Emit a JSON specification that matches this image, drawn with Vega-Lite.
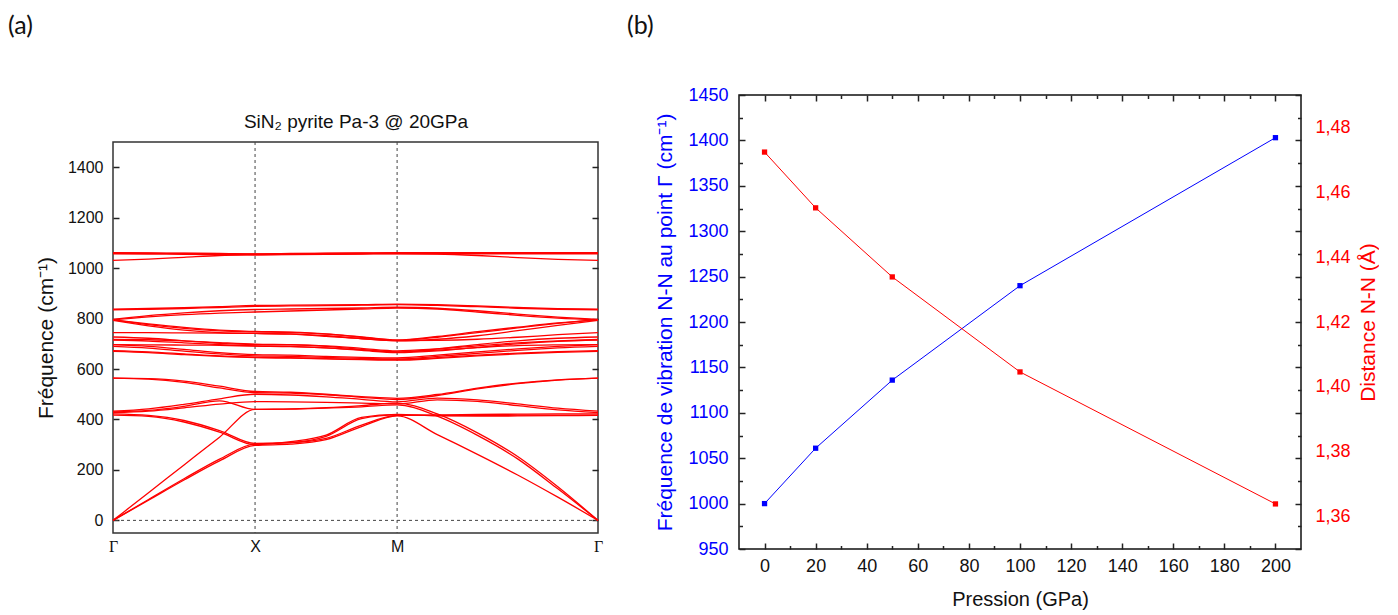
{
  "$schema": "https://vega.github.io/schema/vega-lite/v6.json",
  "background": "white",
  "padding": {"left": 8, "top": 13, "right": 0, "bottom": 0},
  "spacing": 22,
  "config": {
    "font": "Liberation Sans",
    "axis": {"grid": false, "labelFont": "Liberation Sans", "titleFont": "Liberation Sans", "tickColor": "#222", "tickWidth": 1.5}
  },
  "datasets": {
    "bands": [
      {"b":"H1","k":0,"f":1031},{"b":"H1","k":0.25,"f":1036},{"b":"H1","k":0.5,"f":1043},{"b":"H1","k":0.75,"f":1050},{"b":"H1","k":1,"f":1053},{"b":"H1","k":1.25,"f":1055},{"b":"H1","k":1.5,"f":1056},{"b":"H1","k":1.75,"f":1057},{"b":"H1","k":2,"f":1058},{"b":"H1","k":2.2828,"f":1056},{"b":"H1","k":2.5657,"f":1050},{"b":"H1","k":2.8485,"f":1042},{"b":"H1","k":3.1314,"f":1035},{"b":"H1","k":3.4142,"f":1031},
      {"b":"H2","k":0,"f":1057},{"b":"H2","k":0.25,"f":1056},{"b":"H2","k":0.5,"f":1055},{"b":"H2","k":0.75,"f":1054},{"b":"H2","k":1,"f":1053},{"b":"H2","k":1.25,"f":1054},{"b":"H2","k":1.5,"f":1055},{"b":"H2","k":1.75,"f":1056},{"b":"H2","k":2,"f":1057},{"b":"H2","k":2.2828,"f":1057},{"b":"H2","k":2.5657,"f":1057},{"b":"H2","k":2.8485,"f":1057},{"b":"H2","k":3.1314,"f":1057},{"b":"H2","k":3.4142,"f":1057},
      {"b":"H3","k":0,"f":1060},{"b":"H3","k":0.25,"f":1059},{"b":"H3","k":0.5,"f":1058},{"b":"H3","k":0.75,"f":1057},{"b":"H3","k":1,"f":1056},{"b":"H3","k":1.25,"f":1057},{"b":"H3","k":1.5,"f":1058},{"b":"H3","k":1.75,"f":1059},{"b":"H3","k":2,"f":1060},{"b":"H3","k":2.2828,"f":1060},{"b":"H3","k":2.5657,"f":1060},{"b":"H3","k":2.8485,"f":1060},{"b":"H3","k":3.1314,"f":1060},{"b":"H3","k":3.4142,"f":1060},
      {"b":"H4","k":0,"f":1061},{"b":"H4","k":0.25,"f":1060},{"b":"H4","k":0.5,"f":1059},{"b":"H4","k":0.75,"f":1058},{"b":"H4","k":1,"f":1056},{"b":"H4","k":1.25,"f":1058},{"b":"H4","k":1.5,"f":1059},{"b":"H4","k":1.75,"f":1060},{"b":"H4","k":2,"f":1061},{"b":"H4","k":2.2828,"f":1061},{"b":"H4","k":2.5657,"f":1061},{"b":"H4","k":2.8485,"f":1061},{"b":"H4","k":3.1314,"f":1061},{"b":"H4","k":3.4142,"f":1061},
      {"b":"U1","k":0,"f":837},{"b":"U1","k":0.25,"f":840},{"b":"U1","k":0.5,"f":843},{"b":"U1","k":0.75,"f":847},{"b":"U1","k":1,"f":852},{"b":"U1","k":1.25,"f":853},{"b":"U1","k":1.5,"f":854},{"b":"U1","k":1.75,"f":855},{"b":"U1","k":2,"f":857},{"b":"U1","k":2.2828,"f":855},{"b":"U1","k":2.5657,"f":850},{"b":"U1","k":2.8485,"f":844},{"b":"U1","k":3.1314,"f":839},{"b":"U1","k":3.4142,"f":837},
      {"b":"U2","k":0,"f":835},{"b":"U2","k":0.25,"f":837},{"b":"U2","k":0.5,"f":840},{"b":"U2","k":0.75,"f":844},{"b":"U2","k":1,"f":848},{"b":"U2","k":1.25,"f":850},{"b":"U2","k":1.5,"f":851},{"b":"U2","k":1.75,"f":853},{"b":"U2","k":2,"f":855},{"b":"U2","k":2.2828,"f":852},{"b":"U2","k":2.5657,"f":847},{"b":"U2","k":2.8485,"f":841},{"b":"U2","k":3.1314,"f":837},{"b":"U2","k":3.4142,"f":835},
      {"b":"U3","k":0,"f":797},{"b":"U3","k":0.25,"f":812},{"b":"U3","k":0.5,"f":823},{"b":"U3","k":0.75,"f":831},{"b":"U3","k":1,"f":836},{"b":"U3","k":1.25,"f":838},{"b":"U3","k":1.5,"f":840},{"b":"U3","k":1.75,"f":842},{"b":"U3","k":2,"f":845},{"b":"U3","k":2.2828,"f":841},{"b":"U3","k":2.5657,"f":831},{"b":"U3","k":2.8485,"f":818},{"b":"U3","k":3.1314,"f":806},{"b":"U3","k":3.4142,"f":797},
      {"b":"U4","k":0,"f":795},{"b":"U4","k":0.25,"f":807},{"b":"U4","k":0.5,"f":816},{"b":"U4","k":0.75,"f":822},{"b":"U4","k":1,"f":826},{"b":"U4","k":1.25,"f":830},{"b":"U4","k":1.5,"f":834},{"b":"U4","k":1.75,"f":838},{"b":"U4","k":2,"f":842},{"b":"U4","k":2.2828,"f":838},{"b":"U4","k":2.5657,"f":826},{"b":"U4","k":2.8485,"f":813},{"b":"U4","k":3.1314,"f":802},{"b":"U4","k":3.4142,"f":795},
      {"b":"U5","k":0,"f":796},{"b":"U5","k":0.25,"f":776},{"b":"U5","k":0.5,"f":761},{"b":"U5","k":0.75,"f":751},{"b":"U5","k":1,"f":747},{"b":"U5","k":1.25,"f":745},{"b":"U5","k":1.5,"f":738},{"b":"U5","k":1.75,"f":726},{"b":"U5","k":2,"f":714},{"b":"U5","k":2.2828,"f":726},{"b":"U5","k":2.5657,"f":744},{"b":"U5","k":2.8485,"f":763},{"b":"U5","k":3.1314,"f":781},{"b":"U5","k":3.4142,"f":796},
      {"b":"U6","k":0,"f":793},{"b":"U6","k":0.25,"f":771},{"b":"U6","k":0.5,"f":754},{"b":"U6","k":0.75,"f":744},{"b":"U6","k":1,"f":741},{"b":"U6","k":1.25,"f":739},{"b":"U6","k":1.5,"f":732},{"b":"U6","k":1.75,"f":721},{"b":"U6","k":2,"f":712},{"b":"U6","k":2.2828,"f":718},{"b":"U6","k":2.5657,"f":732},{"b":"U6","k":2.8485,"f":752},{"b":"U6","k":3.1314,"f":773},{"b":"U6","k":3.4142,"f":793},
      {"b":"U7","k":0,"f":795},{"b":"U7","k":0.25,"f":779},{"b":"U7","k":0.5,"f":765},{"b":"U7","k":0.75,"f":754},{"b":"U7","k":1,"f":749},{"b":"U7","k":1.25,"f":746},{"b":"U7","k":1.5,"f":739},{"b":"U7","k":1.75,"f":727},{"b":"U7","k":2,"f":715},{"b":"U7","k":2.2828,"f":729},{"b":"U7","k":2.5657,"f":748},{"b":"U7","k":2.8485,"f":766},{"b":"U7","k":3.1314,"f":783},{"b":"U7","k":3.4142,"f":795},
      {"b":"M1","k":0,"f":744},{"b":"M1","k":0.25,"f":744},{"b":"M1","k":0.5,"f":743},{"b":"M1","k":0.75,"f":742},{"b":"M1","k":1,"f":741},{"b":"M1","k":1.25,"f":738},{"b":"M1","k":1.5,"f":730},{"b":"M1","k":1.75,"f":720},{"b":"M1","k":2,"f":713},{"b":"M1","k":2.2828,"f":714},{"b":"M1","k":2.5657,"f":718},{"b":"M1","k":2.8485,"f":726},{"b":"M1","k":3.1314,"f":736},{"b":"M1","k":3.4142,"f":744},
      {"b":"M2","k":0,"f":727},{"b":"M2","k":0.25,"f":722},{"b":"M2","k":0.5,"f":712},{"b":"M2","k":0.75,"f":702},{"b":"M2","k":1,"f":697},{"b":"M2","k":1.25,"f":696},{"b":"M2","k":1.5,"f":690},{"b":"M2","k":1.75,"f":678},{"b":"M2","k":2,"f":667},{"b":"M2","k":2.2828,"f":680},{"b":"M2","k":2.5657,"f":697},{"b":"M2","k":2.8485,"f":712},{"b":"M2","k":3.1314,"f":722},{"b":"M2","k":3.4142,"f":727},
      {"b":"M9","k":0,"f":717},{"b":"M9","k":0.25,"f":716},{"b":"M9","k":0.5,"f":712},{"b":"M9","k":0.75,"f":705},{"b":"M9","k":1,"f":699},{"b":"M9","k":1.25,"f":697},{"b":"M9","k":1.5,"f":692},{"b":"M9","k":1.75,"f":682},{"b":"M9","k":2,"f":672},{"b":"M9","k":2.2828,"f":680},{"b":"M9","k":2.5657,"f":692},{"b":"M9","k":2.8485,"f":704},{"b":"M9","k":3.1314,"f":712},{"b":"M9","k":3.4142,"f":717},
      {"b":"M3","k":0,"f":715},{"b":"M3","k":0.25,"f":711},{"b":"M3","k":0.5,"f":704},{"b":"M3","k":0.75,"f":697},{"b":"M3","k":1,"f":692},{"b":"M3","k":1.25,"f":690},{"b":"M3","k":1.5,"f":684},{"b":"M3","k":1.75,"f":674},{"b":"M3","k":2,"f":665},{"b":"M3","k":2.2828,"f":672},{"b":"M3","k":2.5657,"f":686},{"b":"M3","k":2.8485,"f":700},{"b":"M3","k":3.1314,"f":710},{"b":"M3","k":3.4142,"f":715},
      {"b":"M8","k":0,"f":697},{"b":"M8","k":0.25,"f":696},{"b":"M8","k":0.5,"f":695},{"b":"M8","k":0.75,"f":694},{"b":"M8","k":1,"f":691},{"b":"M8","k":1.25,"f":689},{"b":"M8","k":1.5,"f":684},{"b":"M8","k":1.75,"f":676},{"b":"M8","k":2,"f":668},{"b":"M8","k":2.2828,"f":675},{"b":"M8","k":2.5657,"f":685},{"b":"M8","k":2.8485,"f":693},{"b":"M8","k":3.1314,"f":696},{"b":"M8","k":3.4142,"f":697},
      {"b":"M4","k":0,"f":697},{"b":"M4","k":0.25,"f":690},{"b":"M4","k":0.5,"f":678},{"b":"M4","k":0.75,"f":665},{"b":"M4","k":1,"f":657},{"b":"M4","k":1.25,"f":655},{"b":"M4","k":1.5,"f":650},{"b":"M4","k":1.75,"f":646},{"b":"M4","k":2,"f":644},{"b":"M4","k":2.2828,"f":655},{"b":"M4","k":2.5657,"f":668},{"b":"M4","k":2.8485,"f":680},{"b":"M4","k":3.1314,"f":690},{"b":"M4","k":3.4142,"f":697},
      {"b":"M5","k":0,"f":690},{"b":"M5","k":0.25,"f":683},{"b":"M5","k":0.5,"f":671},{"b":"M5","k":0.75,"f":660},{"b":"M5","k":1,"f":652},{"b":"M5","k":1.25,"f":650},{"b":"M5","k":1.5,"f":646},{"b":"M5","k":1.75,"f":642},{"b":"M5","k":2,"f":640},{"b":"M5","k":2.2828,"f":650},{"b":"M5","k":2.5657,"f":662},{"b":"M5","k":2.8485,"f":674},{"b":"M5","k":3.1314,"f":684},{"b":"M5","k":3.4142,"f":690},
      {"b":"M6","k":0,"f":673},{"b":"M6","k":0.25,"f":668},{"b":"M6","k":0.5,"f":660},{"b":"M6","k":0.75,"f":652},{"b":"M6","k":1,"f":647},{"b":"M6","k":1.25,"f":645},{"b":"M6","k":1.5,"f":641},{"b":"M6","k":1.75,"f":638},{"b":"M6","k":2,"f":637},{"b":"M6","k":2.2828,"f":645},{"b":"M6","k":2.5657,"f":655},{"b":"M6","k":2.8485,"f":663},{"b":"M6","k":3.1314,"f":669},{"b":"M6","k":3.4142,"f":673},
      {"b":"M7","k":0,"f":670},{"b":"M7","k":0.25,"f":665},{"b":"M7","k":0.5,"f":657},{"b":"M7","k":0.75,"f":650},{"b":"M7","k":1,"f":645},{"b":"M7","k":1.25,"f":643},{"b":"M7","k":1.5,"f":640},{"b":"M7","k":1.75,"f":637},{"b":"M7","k":2,"f":635},{"b":"M7","k":2.2828,"f":642},{"b":"M7","k":2.5657,"f":652},{"b":"M7","k":2.8485,"f":660},{"b":"M7","k":3.1314,"f":666},{"b":"M7","k":3.4142,"f":670},
      {"b":"L1","k":0,"f":564},{"b":"L1","k":0.25,"f":562},{"b":"L1","k":0.5,"f":552},{"b":"L1","k":0.75,"f":532},{"b":"L1","k":1,"f":511},{"b":"L1","k":1.25,"f":508},{"b":"L1","k":1.5,"f":500},{"b":"L1","k":1.75,"f":491},{"b":"L1","k":2,"f":484},{"b":"L1","k":2.2828,"f":499},{"b":"L1","k":2.5657,"f":524},{"b":"L1","k":2.8485,"f":544},{"b":"L1","k":3.1314,"f":557},{"b":"L1","k":3.4142,"f":564},
      {"b":"L2","k":0,"f":564},{"b":"L2","k":0.25,"f":560},{"b":"L2","k":0.5,"f":547},{"b":"L2","k":0.75,"f":525},{"b":"L2","k":1,"f":506},{"b":"L2","k":1.25,"f":505},{"b":"L2","k":1.5,"f":498},{"b":"L2","k":1.75,"f":488},{"b":"L2","k":2,"f":479},{"b":"L2","k":2.2828,"f":495},{"b":"L2","k":2.5657,"f":521},{"b":"L2","k":2.8485,"f":542},{"b":"L2","k":3.1314,"f":556},{"b":"L2","k":3.4142,"f":564},
      {"b":"L3","k":0,"f":433},{"b":"L3","k":0.25,"f":442},{"b":"L3","k":0.5,"f":460},{"b":"L3","k":0.75,"f":482},{"b":"L3","k":1,"f":500},{"b":"L3","k":1.25,"f":497},{"b":"L3","k":1.5,"f":490},{"b":"L3","k":1.75,"f":480},{"b":"L3","k":2,"f":470},{"b":"L3","k":2.2828,"f":485},{"b":"L3","k":2.5657,"f":478},{"b":"L3","k":2.8485,"f":462},{"b":"L3","k":3.1314,"f":445},{"b":"L3","k":3.4142,"f":433},
      {"b":"L4","k":0,"f":427},{"b":"L4","k":0.25,"f":433},{"b":"L4","k":0.5,"f":446},{"b":"L4","k":0.75,"f":461},{"b":"L4","k":1,"f":471},{"b":"L4","k":1.25,"f":470},{"b":"L4","k":1.5,"f":468},{"b":"L4","k":1.75,"f":465},{"b":"L4","k":2,"f":462},{"b":"L4","k":2.2828,"f":478},{"b":"L4","k":2.5657,"f":472},{"b":"L4","k":2.8485,"f":455},{"b":"L4","k":3.1314,"f":438},{"b":"L4","k":3.4142,"f":427},
      {"b":"L5","k":0,"f":422},{"b":"L5","k":0.25,"f":416},{"b":"L5","k":0.5,"f":396},{"b":"L5","k":0.75,"f":356},{"b":"L5","k":1,"f":305},{"b":"L5","k":1.25,"f":308},{"b":"L5","k":1.5,"f":325},{"b":"L5","k":1.75,"f":378},{"b":"L5","k":2,"f":416},{"b":"L5","k":2.2828,"f":418},{"b":"L5","k":2.5657,"f":420},{"b":"L5","k":2.8485,"f":421},{"b":"L5","k":3.1314,"f":422},{"b":"L5","k":3.4142,"f":422},
      {"b":"L6","k":0,"f":417},{"b":"L6","k":0.25,"f":412},{"b":"L6","k":0.5,"f":390},{"b":"L6","k":0.75,"f":350},{"b":"L6","k":1,"f":300},{"b":"L6","k":1.25,"f":312},{"b":"L6","k":1.5,"f":338},{"b":"L6","k":1.75,"f":408},{"b":"L6","k":2,"f":420},{"b":"L6","k":2.2828,"f":414},{"b":"L6","k":2.5657,"f":413},{"b":"L6","k":2.8485,"f":414},{"b":"L6","k":3.1314,"f":415},{"b":"L6","k":3.4142,"f":416},
      {"b":"L7","k":0,"f":430},{"b":"L7","k":0.25,"f":436},{"b":"L7","k":0.5,"f":452},{"b":"L7","k":0.75,"f":474},{"b":"L7","k":1,"f":440},{"b":"L7","k":1.25,"f":441},{"b":"L7","k":1.5,"f":445},{"b":"L7","k":1.75,"f":450},{"b":"L7","k":2,"f":458},{"b":"L7","k":2.2828,"f":413},{"b":"L7","k":2.5657,"f":337},{"b":"L7","k":2.8485,"f":244},{"b":"L7","k":3.1314,"f":125},{"b":"L7","k":3.4142,"f":0},
      {"b":"A1","k":0,"f":0},{"b":"A1","k":0.25,"f":80},{"b":"A1","k":0.5,"f":160},{"b":"A1","k":0.75,"f":236},{"b":"A1","k":1,"f":297},{"b":"A1","k":1.25,"f":302},{"b":"A1","k":1.5,"f":320},{"b":"A1","k":1.75,"f":372},{"b":"A1","k":2,"f":414},{"b":"A1","k":2.2828,"f":340},{"b":"A1","k":2.5657,"f":262},{"b":"A1","k":2.8485,"f":180},{"b":"A1","k":3.1314,"f":92},{"b":"A1","k":3.4142,"f":0},
      {"b":"A2","k":0,"f":0},{"b":"A2","k":0.25,"f":83},{"b":"A2","k":0.5,"f":165},{"b":"A2","k":0.75,"f":243},{"b":"A2","k":1,"f":303},{"b":"A2","k":1.25,"f":308},{"b":"A2","k":1.5,"f":333},{"b":"A2","k":1.75,"f":403},{"b":"A2","k":2,"f":418},{"b":"A2","k":2.2828,"f":416},{"b":"A2","k":2.5657,"f":416},{"b":"A2","k":2.8485,"f":417},{"b":"A2","k":3.1314,"f":417},{"b":"A2","k":3.4142,"f":417},
      {"b":"LA","k":0,"f":0},{"b":"LA","k":0.25,"f":110},{"b":"LA","k":0.5,"f":220},{"b":"LA","k":0.75,"f":330},{"b":"LA","k":1,"f":440},{"b":"LA","k":1.25,"f":442},{"b":"LA","k":1.5,"f":447},{"b":"LA","k":1.75,"f":455},{"b":"LA","k":2,"f":465},{"b":"LA","k":2.2828,"f":422},{"b":"LA","k":2.5657,"f":347},{"b":"LA","k":2.8485,"f":253},{"b":"LA","k":3.1314,"f":133},{"b":"LA","k":3.4142,"f":0}
    ],
    "pression": [
      {"p": 0, "freq": 1000, "dist": 1.4724},
      {"p": 20, "freq": 1061, "dist": 1.4552},
      {"p": 50, "freq": 1136, "dist": 1.4339},
      {"p": 100, "freq": 1240, "dist": 1.4046},
      {"p": 200, "freq": 1403, "dist": 1.3639}
    ]
  },
  "hconcat": [
    {
      "spacing": 0,
      "vconcat": [
        {
          "width": 485,
          "height": 16,
          "view": {"stroke": null},
          "title": {"text": "(a)", "anchor": "start", "frame": "group", "dx": -105, "offset": 56, "fontSize": 25, "font": "Lato", "fontWeight": "normal", "color": "#111"},
          "data": {"values": [{"t": ""}]},
          "mark": {"type": "text"},
          "encoding": {"text": {"field": "t"}}
        },
        {
          "width": 485,
          "height": 391,
          "view": {"stroke": "#333", "strokeWidth": 1.5},
          "resolve": {"axis": {"x": "independent", "y": "independent"}},
          "layer": [
            {
              "data": {"values": [{"k": 1}, {"k": 2}]},
              "mark": {"type": "rule", "color": "#444", "strokeDash": [3, 3], "strokeWidth": 1},
              "encoding": {"x": {"field": "k", "type": "quantitative", "scale": {"domain": [0, 3.4142], "nice": false, "zero": false}, "axis": null}}
            },
            {
              "data": {"values": [{"f": 0}]},
              "mark": {"type": "rule", "color": "#444", "strokeDash": [3, 3], "strokeWidth": 1},
              "encoding": {"y": {"field": "f", "type": "quantitative", "scale": {"domain": [-50, 1500], "nice": false, "zero": false}, "axis": null}}
            },
            {
              "data": {"name": "bands"},
              "mark": {"type": "line", "color": "#ff0000", "strokeWidth": 1.3, "interpolate": "monotone"},
              "encoding": {
                "x": {"field": "k", "type": "quantitative", "scale": {"domain": [0, 3.4142], "nice": false, "zero": false},
                  "axis": {"values": [0, 1, 2, 3.4142], "labelExpr": "datum.value == 1 ? 'X' : datum.value == 2 ? 'M' : 'Γ'", "ticks": false, "domain": false, "title": null, "labelFontSize": 16, "labelColor": "#111", "labelPadding": 5, "labelFlush": false, "labelOverlap": false, "labelBound": false,
                    "labelFont": {"condition": {"test": "datum.value == 1 || datum.value == 2", "value": "Liberation Sans"}, "value": "Liberation Serif"}}},
                "y": {"field": "f", "type": "quantitative", "scale": {"domain": [-50, 1500], "nice": false, "zero": false},
                  "axis": {"values": [0, 200, 400, 600, 800, 1000, 1200, 1400], "format": "d", "tickSize": -6, "labelPadding": 16, "domain": false, "labelFontSize": 16, "labelColor": "#111", "title": "Fréquence (cm⁻¹)", "titleFontSize": 21, "titleFontWeight": "normal", "titleColor": "#111", "titlePadding": 11}},
                "detail": {"field": "b", "type": "nominal"}
              }
            },
            {
              "data": {"values": [{"f": 0}]},
              "mark": {"type": "point", "opacity": 0},
              "encoding": {"y": {"field": "f", "type": "quantitative", "scale": {"domain": [-50, 1500], "nice": false, "zero": false},
                "axis": {"orient": "right", "values": [0, 200, 400, 600, 800, 1000, 1200, 1400], "labels": false, "tickSize": -6, "domain": false, "title": null}}}
            },
            {
              "data": {"values": [{"k": 0}]},
              "mark": {"type": "point", "opacity": 0},
              "encoding": {"x": {"field": "k", "type": "quantitative", "scale": {"domain": [0, 3.4142], "nice": false, "zero": false},
                "axis": {"orient": "top", "labels": false, "ticks": false, "domain": false, "title": "SiN₂ pyrite Pa-3 @ 20GPa", "titleFontSize": 19, "titleFontWeight": "normal", "titleColor": "#111", "titlePadding": 11}}}
            }
          ]
        }
      ]
    },
    {
      "width": 562,
      "height": 454,
      "view": {"stroke": "#111", "strokeWidth": 1.5},
      "title": {"text": "(b)", "anchor": "start", "frame": "group", "dx": -112, "offset": 47, "fontSize": 25, "font": "Lato", "fontWeight": "normal", "color": "#111"},
      "data": {"name": "pression"},
      "resolve": {"scale": {"y": "independent"}, "axis": {"x": "independent", "y": "independent"}},
      "layer": [
        {
          "mark": {"type": "line", "color": "#0000ff", "strokeWidth": 1, "point": {"shape": "square", "filled": true, "size": 28, "color": "#0000ff"}},
          "encoding": {
            "x": {"field": "p", "type": "quantitative", "scale": {"domain": [-10, 210], "nice": false, "zero": false},
              "axis": {"values": [0, 20, 40, 60, 80, 100, 120, 140, 160, 180, 200], "tickSize": -6, "labelPadding": 14, "domain": false, "labelFontSize": 18, "labelColor": "#111", "labelFlush": false, "title": "Pression (GPa)", "titleFontSize": 20, "titleFontWeight": "normal", "titleColor": "#111", "titlePadding": 14}},
            "y": {"field": "freq", "type": "quantitative", "scale": {"domain": [950, 1450], "nice": false, "zero": false},
              "axis": {"values": [950, 1000, 1050, 1100, 1150, 1200, 1250, 1300, 1350, 1400, 1450], "format": "d", "tickSize": -6, "labelPadding": 17, "domain": false, "labelFontSize": 18, "labelColor": "#0000ff", "title": "Fréquence de vibration N-N au point Γ  (cm⁻¹)", "titleFontSize": 21, "titleFontWeight": "normal", "titleColor": "#0000ff", "titlePadding": 12}}
          }
        },
        {
          "mark": {"type": "line", "color": "#ff0000", "strokeWidth": 1, "point": {"shape": "square", "filled": true, "size": 28, "color": "#ff0000"}},
          "encoding": {
            "x": {"field": "p", "type": "quantitative", "scale": {"domain": [-10, 210], "nice": false, "zero": false}, "axis": null},
            "y": {"field": "dist", "type": "quantitative", "scale": {"domain": [1.35, 1.49], "nice": false, "zero": false},
              "axis": {"orient": "right", "values": [1.36, 1.38, 1.4, 1.42, 1.44, 1.46, 1.48], "labelExpr": "replace(format(datum.value, '.2f'), '.', ',')", "ticks": false, "domain": false, "labelPadding": 14, "labelFontSize": 18, "labelColor": "#ff0000", "title": "Distance N-N  (Å)", "titleFontSize": 21, "titleFontWeight": "normal", "titleColor": "#ff0000", "titleAngle": 270, "titlePadding": 28}}
          }
        },
        {
          "mark": {"type": "point", "opacity": 0},
          "encoding": {
            "x": {"field": "p", "type": "quantitative", "scale": {"domain": [-10, 210], "nice": false, "zero": false},
              "axis": {"orient": "top", "values": [0, 20, 40, 60, 80, 100, 120, 140, 160, 180, 200], "labels": false, "tickSize": -6, "domain": false, "title": null}},
            "y": {"field": "freq", "type": "quantitative", "scale": {"domain": [950, 1450], "nice": false, "zero": false},
              "axis": {"orient": "right", "values": [950, 1000, 1050, 1100, 1150, 1200, 1250, 1300, 1350, 1400, 1450], "labels": false, "tickSize": -6, "domain": false, "title": null}}
          }
        },
        {
          "mark": {"type": "point", "opacity": 0},
          "encoding": {
            "x": {"field": "p", "type": "quantitative", "scale": {"domain": [-10, 210], "nice": false, "zero": false},
              "axis": {"orient": "bottom", "values": [10, 30, 50, 70, 90, 110, 130, 150, 170, 190], "labels": false, "tickSize": -3.5, "domain": false, "title": null}},
            "y": {"field": "freq", "type": "quantitative", "scale": {"domain": [950, 1450], "nice": false, "zero": false},
              "axis": {"orient": "left", "values": [975, 1025, 1075, 1125, 1175, 1225, 1275, 1325, 1375, 1425], "labels": false, "tickSize": -3.5, "domain": false, "title": null}}
          }
        },
        {
          "mark": {"type": "point", "opacity": 0},
          "encoding": {
            "x": {"field": "p", "type": "quantitative", "scale": {"domain": [-10, 210], "nice": false, "zero": false},
              "axis": {"orient": "top", "values": [10, 30, 50, 70, 90, 110, 130, 150, 170, 190], "labels": false, "tickSize": -3.5, "domain": false, "title": null}},
            "y": {"field": "freq", "type": "quantitative", "scale": {"domain": [950, 1450], "nice": false, "zero": false},
              "axis": {"orient": "right", "values": [975, 1025, 1075, 1125, 1175, 1225, 1275, 1325, 1375, 1425], "labels": false, "tickSize": -3.5, "domain": false, "title": null}}
          }
        }
      ]
    }
  ]
}
